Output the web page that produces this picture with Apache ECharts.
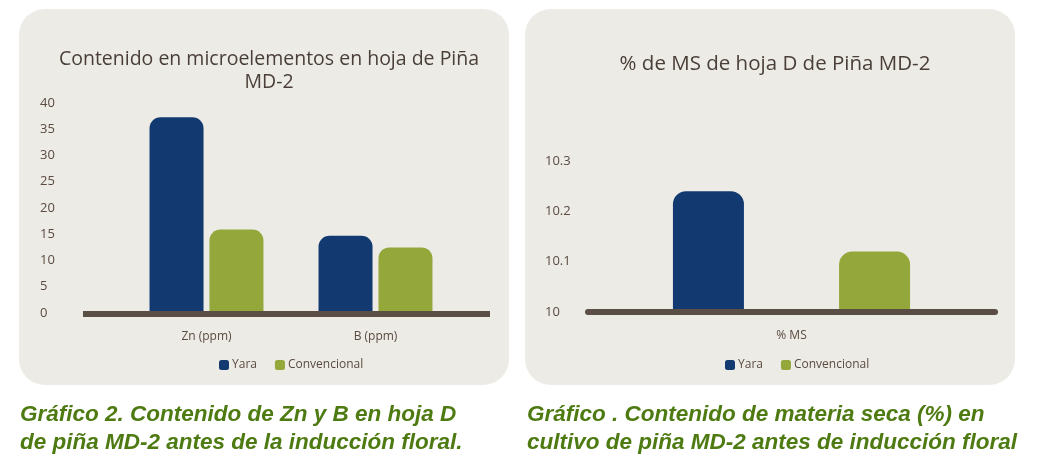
<!DOCTYPE html>
<html>
<head>
<meta charset="utf-8">
<title>Piña MD-2</title>
<script src="https://cdn.jsdelivr.net/npm/echarts@6/dist/echarts.min.js"></script>
<style>
    html, body { margin: 0; padding: 0; background: #ffffff; }
    #chart { width: 1037px; height: 473px; }
</style>
</head>
<body>
<div id="chart"></div>
<script>
// datos del gráfico de microelementos
const catsMicro = ['Zn (ppm)', 'B (ppm)'];
const yaraMicro = [37.3, 14.7];
const convMicro = [15.9, 12.5];

// datos del gráfico de materia seca
const catsMS = ['% MS'];
const yaraMS = [10.24];
const convMS = [10.12];

const seriesNames = ['Yara', 'Convencional'];

(function () {
    let myChart = echarts.init(document.getElementById('chart'));

    const navy = '#123a70';
    const olive = '#93a73a';
    const txt = '#5a4a40';
    const font = 'Open Sans';
    const captionFont = 'italic bold 22.5px "Liberation Sans", sans-serif';

    let axisLabel = { color: txt, fontSize: 13, fontFamily: font };

    let option = {
        animation: false,
        backgroundColor: '#ffffff',
        color: [navy, olive],
        title: [
            {
                text: 'Contenido en microelementos en hoja de Piña\nMD-2',
                left: 264, top: 43, textAlign: 'center',
                textStyle: { color: '#4a3f38', fontSize: 19.5, fontWeight: 'normal', fontFamily: font, lineHeight: 23 }
            },
            {
                text: '% de MS de hoja D de Piña MD-2',
                left: 770, top: 49, textAlign: 'center',
                textStyle: { color: '#4a3f38', fontSize: 20.5, fontWeight: 'normal', fontFamily: font }
            }
        ],
        legend: [
            {
                data: seriesNames, left: 214, top: 354,
                itemWidth: 10, itemHeight: 10, itemGap: 18, icon: 'roundRect',
                textStyle: { color: txt, fontSize: 12, fontFamily: font, padding: [0, 0, 0, -2] }
            },
            {
                data: seriesNames, left: 720, top: 354,
                itemWidth: 10, itemHeight: 10, itemGap: 18, icon: 'roundRect',
                textStyle: { color: txt, fontSize: 12, fontFamily: font, padding: [0, 0, 0, -2] }
            }
        ],
        grid: [
            { left: 122, top: 103, width: 338, height: 210 },
            { left: 588, top: 161, width: 407, height: 151 }
        ],
        xAxis: [
            {
                type: 'category', gridIndex: 0, data: catsMicro,
                axisLine: { show: false }, axisTick: { show: false },
                axisLabel: { color: txt, fontSize: 12, fontFamily: font, margin: 18 }
            },
            {
                type: 'category', gridIndex: 1, data: catsMS, z: 5,
                axisLine: { show: true, lineStyle: { color: '#5b4f45', width: 6 } },
                axisTick: { show: false },
                axisLabel: { color: txt, fontSize: 12, fontFamily: font, margin: 18 }
            }
        ],
        yAxis: [
            {
                type: 'value', gridIndex: 0, min: 0, max: 40, interval: 5,
                splitLine: { show: false }, axisLine: { show: false }, axisTick: { show: false },
                axisLabel: Object.assign({ align: 'left', margin: 82 }, axisLabel)
            },
            {
                type: 'value', gridIndex: 1, min: 10, max: 10.3, interval: 0.1,
                splitLine: { show: false }, axisLine: { show: false }, axisTick: { show: false },
                axisLabel: Object.assign({
                    align: 'left', margin: 43,
                    formatter: function (v) { return String(Math.round(v * 10) / 10); }
                }, axisLabel)
            }
        ],
        series: [
            {
                name: 'Yara', type: 'bar', xAxisIndex: 0, yAxisIndex: 0, data: yaraMicro,
                barWidth: 54, barGap: '11%', itemStyle: { color: navy, borderRadius: [11, 11, 0, 0] }
            },
            {
                name: 'Convencional', type: 'bar', xAxisIndex: 0, yAxisIndex: 0, data: convMicro,
                barWidth: 54, barGap: '11%', itemStyle: { color: olive, borderRadius: [11, 11, 0, 0] }
            },
            {
                name: 'Yara', type: 'bar', xAxisIndex: 1, yAxisIndex: 1, data: yaraMS,
                barWidth: 71, barGap: '134%', itemStyle: { color: navy, borderRadius: [13, 13, 0, 0] }
            },
            {
                name: 'Convencional', type: 'bar', xAxisIndex: 1, yAxisIndex: 1, data: convMS,
                barWidth: 71, barGap: '134%', itemStyle: { color: olive, borderRadius: [13, 13, 0, 0] }
            }
        ],
        graphic: [
            // paneles de fondo
            { type: 'rect', z: -10, shape: { x: 19, y: 9, width: 490, height: 376, r: 26 }, style: { fill: '#ecebe6' } },
            { type: 'rect', z: -10, shape: { x: 525, y: 9, width: 490, height: 376, r: 26 }, style: { fill: '#ecebe6' } },
            // línea base del primer gráfico (más larga que la rejilla)
            { type: 'rect', z: 10, shape: { x: 83, y: 311, width: 407, height: 6 }, style: { fill: '#5b4f45' } },
            // pies de gráfico
            {
                type: 'text', left: 20, top: 401,
                style: {
                    text: 'Gráfico 2. Contenido de Zn y B en hoja D\nde piña MD-2 antes de la inducción floral.',
                    fill: '#4e7a12', font: captionFont, lineHeight: 28
                }
            },
            {
                type: 'text', left: 527, top: 401,
                style: {
                    text: 'Gráfico . Contenido de materia seca (%) en\ncultivo de piña MD-2 antes de inducción floral',
                    fill: '#4e7a12', font: captionFont, lineHeight: 28
                }
            }
        ]
    };

    myChart.setOption(option);

    window.addEventListener('resize', function () {
        myChart.resize();
    });
})();
</script>
</body>
</html>
